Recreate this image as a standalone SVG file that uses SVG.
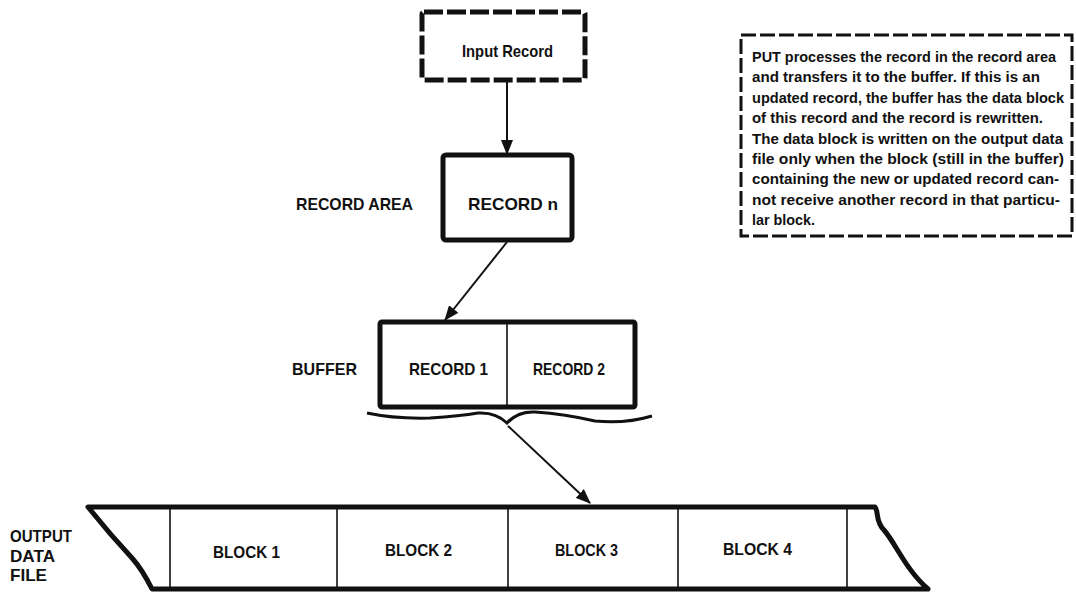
<svg xmlns="http://www.w3.org/2000/svg" width="1076" height="594" viewBox="0 0 1076 594">
<style>
  text { font-family: "Liberation Sans", Arial, sans-serif; font-weight: bold; fill: #111; }
  .lbl { font-size: 17px; }
  .note { font-size: 15px; }
  .thick { fill: none; stroke: #111; stroke-width: 5; stroke-linejoin: round; }
  .dash { fill: none; stroke: #111; stroke-width: 5; stroke-dasharray: 19 4; }
  .ndash { fill: none; stroke: #111; stroke-width: 3; stroke-dasharray: 15 4; }
  .thin { fill: none; stroke: #111; stroke-width: 1.6; }
  .conn { fill: none; stroke: #111; stroke-width: 2; }
</style>
<defs>
  <marker id="ah" markerWidth="15" markerHeight="12" refX="14" refY="6" orient="auto" markerUnits="userSpaceOnUse">
    <path d="M0,0 L15,6 L0,12 Z" fill="#111"/>
  </marker>
</defs>
<rect width="1076" height="594" fill="#fff"/>

<g id="input-record">
  <rect class="dash" x="422" y="12" width="163" height="68" rx="2"/>
  <text class="lbl" x="462" y="57" textLength="91" lengthAdjust="spacingAndGlyphs">Input Record</text>
</g>

<g id="record-area">
  <text class="lbl" x="296" y="210" textLength="117" lengthAdjust="spacingAndGlyphs">RECORD AREA</text>
  <rect class="thick" x="443" y="155" width="129" height="85" rx="3"/>
  <text class="lbl" x="468" y="210" textLength="90" lengthAdjust="spacingAndGlyphs">RECORD n</text>
</g>

<g id="buffer">
  <text class="lbl" x="292" y="375" textLength="65" lengthAdjust="spacingAndGlyphs">BUFFER</text>
  <rect class="thick" x="380" y="322" width="255" height="85" rx="2"/>
  <line class="thin" x1="507" y1="322" x2="507" y2="407"/>
  <text class="lbl" x="409" y="375" textLength="79" lengthAdjust="spacingAndGlyphs">RECORD 1</text>
  <text class="lbl" x="533" y="375" textLength="72" lengthAdjust="spacingAndGlyphs">RECORD 2</text>
  <path d="M367,413 Q395,419 430,418 Q460,416 478,413 Q496,412 507,423 Q518,411 535,412 Q565,414 595,421 Q625,424 652,416" fill="none" stroke="#111" stroke-width="3"/>
</g>

<g id="note">
  <rect class="ndash" x="741" y="35" width="331" height="201"/>
  <text class="note" x="752" y="62" textLength="304" lengthAdjust="spacingAndGlyphs">PUT processes the record in the record area</text>
  <text class="note" x="752" y="82.4" textLength="288" lengthAdjust="spacingAndGlyphs">and transfers it to the buffer. If this is an</text>
  <text class="note" x="752" y="102.8" textLength="312" lengthAdjust="spacingAndGlyphs">updated record, the buffer has the data block</text>
  <text class="note" x="752" y="123.2" textLength="291" lengthAdjust="spacingAndGlyphs">of this record and the record is rewritten.</text>
  <text class="note" x="752" y="143.6" textLength="311" lengthAdjust="spacingAndGlyphs">The data block is written on the output data</text>
  <text class="note" x="752" y="164" textLength="312" lengthAdjust="spacingAndGlyphs">file only when the block (still in the buffer)</text>
  <text class="note" x="752" y="184.4" textLength="307" lengthAdjust="spacingAndGlyphs">containing the new or updated record can-</text>
  <text class="note" x="752" y="204.8" textLength="308" lengthAdjust="spacingAndGlyphs">not receive another record in that particu-</text>
  <text class="note" x="752" y="225.2" textLength="63" lengthAdjust="spacingAndGlyphs">lar block.</text>
</g>

<g id="output-data-file">
  <text class="lbl" x="10" y="542" textLength="62" lengthAdjust="spacingAndGlyphs">OUTPUT</text>
  <text class="lbl" x="10" y="562" textLength="45" lengthAdjust="spacingAndGlyphs">DATA</text>
  <text class="lbl" x="10" y="581" textLength="37" lengthAdjust="spacingAndGlyphs">FILE</text>
  <path class="thick" d="M88,507 L875,507 C879,512 875,521 884,530 C896,544 906,570 928,589 L152,589 C146,577 140,567 132,558 C118,543 100,522 88,507 Z"/>
  <line class="thin" x1="170" y1="507" x2="170" y2="589"/>
  <line class="thin" x1="337" y1="507" x2="337" y2="589"/>
  <line class="thin" x1="508" y1="507" x2="508" y2="589"/>
  <line class="thin" x1="678" y1="507" x2="678" y2="589"/>
  <line class="thin" x1="847" y1="507" x2="847" y2="589"/>
  <text class="lbl" x="213" y="558" textLength="67" lengthAdjust="spacingAndGlyphs">BLOCK 1</text>
  <text class="lbl" x="385" y="556" textLength="67" lengthAdjust="spacingAndGlyphs">BLOCK 2</text>
  <text class="lbl" x="555" y="556" textLength="63" lengthAdjust="spacingAndGlyphs">BLOCK 3</text>
  <text class="lbl" x="723" y="555" textLength="69" lengthAdjust="spacingAndGlyphs">BLOCK 4</text>
</g>

<g id="connectors">
  <line class="conn" x1="507" y1="82" x2="507" y2="154" marker-end="url(#ah)"/>
  <line class="conn" x1="507" y1="242" x2="445" y2="320" marker-end="url(#ah)"/>
  <line class="conn" x1="508" y1="426" x2="590" y2="503" marker-end="url(#ah)"/>
</g>
</svg>
